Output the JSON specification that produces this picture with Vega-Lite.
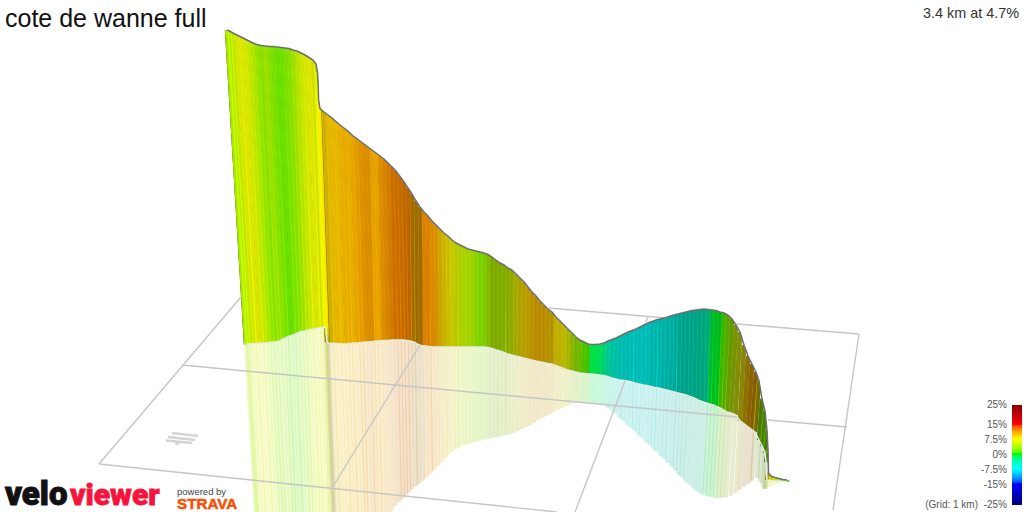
{
  "$schema": "https://vega.github.io/schema/vega-lite/v6.json",
  "width": 1024,
  "height": 512,
  "padding": 0,
  "autosize": "none",
  "background": "white",
  "config": {"view": {"stroke": null}},
  "datasets": {
    "grid": [
      {"x": 99, "y": 464, "x2": 241, "y2": 297},
      {"x": 549, "y": 308, "x2": 666, "y2": 318},
      {"x": 737, "y": 324, "x2": 859, "y2": 334},
      {"x": 859, "y": 334, "x2": 833, "y2": 510},
      {"x": 182, "y": 365, "x2": 737, "y2": 417},
      {"x": 768, "y": 420, "x2": 847, "y2": 427},
      {"x": 99, "y": 464, "x2": 557, "y2": 512},
      {"x": 332, "y": 488, "x2": 420, "y2": 345},
      {"x": 648, "y": 317, "x2": 646, "y2": 322},
      {"x": 625, "y": 381, "x2": 575, "y2": 512}
    ],
    "marker": [
      {"x": 172, "y": 433, "x2": 198, "y2": 436},
      {"x": 168, "y": 437, "x2": 195, "y2": 440},
      {"x": 166, "y": 440.5, "x2": 192, "y2": 443},
      {"x": 175, "y": 443, "x2": 179, "y2": 444}
    ],
    "slices": [
      {"x":227,"y":30,"bx":246,"by":344,"rx":257,"ry":530,"grade":4.3,"light":0.9},
      {"x":229.5,"y":31,"bx":248,"by":344,"rx":258,"ry":530,"grade":4.5,"light":0.9},
      {"x":233,"y":33,"bx":251,"by":343.8,"rx":261,"ry":530,"grade":5.5,"light":0.9},
      {"x":237,"y":35,"bx":254.7,"by":343.6,"rx":265,"ry":530,"grade":6.5,"light":0.9},
      {"x":241,"y":37,"bx":258,"by":343.2,"rx":268,"ry":530,"grade":7,"light":0.9},
      {"x":245,"y":39,"bx":262,"by":343,"rx":272,"ry":530,"grade":6.5,"light":0.9},
      {"x":249,"y":41,"bx":265.5,"by":342.8,"rx":275,"ry":530,"grade":5.5,"light":0.9},
      {"x":253,"y":43,"bx":269,"by":342.5,"rx":279,"ry":530,"grade":4.5,"light":0.9},
      {"x":257,"y":44.5,"bx":272.5,"by":342,"rx":282,"ry":530,"grade":3.5,"light":0.89},
      {"x":261,"y":45.5,"bx":276,"by":341.8,"rx":285,"ry":530,"grade":3,"light":0.88},
      {"x":265,"y":46,"bx":279.6,"by":341,"rx":288,"ry":530,"grade":3.8,"light":0.88},
      {"x":269,"y":46.5,"bx":283,"by":339,"rx":292,"ry":530,"grade":3,"light":0.88},
      {"x":273,"y":46.5,"bx":286.7,"by":337.3,"rx":295,"ry":530,"grade":2.4,"light":0.88},
      {"x":277,"y":47,"bx":290,"by":336,"rx":298,"ry":530,"grade":1.8,"light":0.88},
      {"x":281,"y":47.5,"bx":294,"by":334.5,"rx":302,"ry":530,"grade":2,"light":0.88},
      {"x":285,"y":48,"bx":297.5,"by":333,"rx":305,"ry":530,"grade":2.5,"light":0.88},
      {"x":289,"y":48.5,"bx":301,"by":331.5,"rx":309,"ry":530,"grade":3,"light":0.88},
      {"x":293,"y":50,"bx":304.6,"by":331,"rx":312,"ry":530,"grade":4,"light":0.88},
      {"x":297,"y":51,"bx":308,"by":330,"rx":315,"ry":530,"grade":5,"light":0.89},
      {"x":301,"y":53,"bx":311.7,"by":329.3,"rx":319,"ry":530,"grade":5.8,"light":0.9},
      {"x":305,"y":55,"bx":315,"by":328.8,"rx":322,"ry":530,"grade":6.5,"light":0.9},
      {"x":309,"y":57.5,"bx":319,"by":328,"rx":325,"ry":530,"grade":7,"light":0.9},
      {"x":313,"y":60,"bx":322,"by":327.5,"rx":329,"ry":530,"grade":6.5,"light":0.88},
      {"x":316,"y":64,"bx":325,"by":327,"rx":331,"ry":530,"grade":6,"light":0.8},
      {"x":317.5,"y":72,"bx":326,"by":328,"rx":333,"ry":530,"grade":6.5,"light":0.68},
      {"x":318.2,"y":85,"bx":326.5,"by":335,"rx":333,"ry":530,"grade":7.5,"light":0.6},
      {"x":318.6,"y":100,"bx":327,"by":342,"rx":334,"ry":530,"grade":8,"light":0.5},
      {"x":320,"y":108.5,"bx":328,"by":343,"rx":335,"ry":530,"grade":8.5,"light":0.55},
      {"x":324,"y":112,"bx":332,"by":343.2,"rx":339,"ry":530,"grade":9.2,"light":0.82},
      {"x":328,"y":115,"bx":335.6,"by":343.5,"rx":342,"ry":530,"grade":9.4,"light":0.88},
      {"x":332,"y":118,"bx":339.5,"by":343.8,"rx":346,"ry":530,"grade":9.7,"light":0.9},
      {"x":336,"y":121.5,"bx":343,"by":344,"rx":350,"ry":530,"grade":9.6,"light":0.9},
      {"x":340,"y":125,"bx":347,"by":344,"rx":353,"ry":530,"grade":10,"light":0.9},
      {"x":344,"y":128,"bx":350.5,"by":343.5,"rx":357,"ry":530,"grade":10.2,"light":0.9},
      {"x":348,"y":131,"bx":354,"by":343,"rx":360,"ry":530,"grade":10,"light":0.9},
      {"x":352,"y":135,"bx":358,"by":343,"rx":364,"ry":530,"grade":10.4,"light":0.9},
      {"x":356,"y":138,"bx":361.5,"by":342.5,"rx":367,"ry":530,"grade":10.6,"light":0.88},
      {"x":360,"y":141,"bx":365,"by":342,"rx":370,"ry":530,"grade":10.8,"light":0.86},
      {"x":364,"y":144,"bx":369,"by":341.8,"rx":374,"ry":530,"grade":11,"light":0.85},
      {"x":368,"y":147,"bx":373,"by":341.5,"rx":377,"ry":530,"grade":11,"light":0.85},
      {"x":372,"y":150,"bx":376.5,"by":341,"rx":381,"ry":530,"grade":10.5,"light":0.9},
      {"x":376,"y":153,"bx":380,"by":341,"rx":384,"ry":530,"grade":10.5,"light":0.9},
      {"x":380,"y":156,"bx":384,"by":340.5,"rx":388,"ry":530,"grade":11,"light":0.86},
      {"x":384,"y":159,"bx":388,"by":340.5,"rx":392,"ry":512,"grade":11.3,"light":0.84},
      {"x":388,"y":163,"bx":392,"by":340,"rx":396,"ry":506,"grade":11.6,"light":0.82},
      {"x":392,"y":167,"bx":396,"by":340,"rx":400,"ry":502,"grade":11.9,"light":0.78},
      {"x":396,"y":171,"bx":399.5,"by":340,"rx":403,"ry":499,"grade":12,"light":0.78},
      {"x":400,"y":176.5,"bx":403,"by":340,"rx":406,"ry":496,"grade":11.9,"light":0.76},
      {"x":404,"y":182,"bx":406.5,"by":340.5,"rx":409,"ry":493,"grade":12,"light":0.74},
      {"x":408,"y":188,"bx":410,"by":341,"rx":412,"ry":490,"grade":12,"light":0.72},
      {"x":412,"y":194,"bx":413.5,"by":342,"rx":416,"ry":487,"grade":10.8,"light":0.62},
      {"x":416,"y":201,"bx":417,"by":344,"rx":419,"ry":484.5,"grade":10.6,"light":0.6},
      {"x":420,"y":207,"bx":421,"by":345.5,"rx":423,"ry":481,"grade":10.8,"light":0.62},
      {"x":424,"y":212,"bx":425,"by":346,"rx":427,"ry":477.5,"grade":11.5,"light":0.85},
      {"x":428,"y":216,"bx":429,"by":346.5,"rx":431,"ry":474,"grade":11.5,"light":0.85},
      {"x":432,"y":221,"bx":432.5,"by":346.8,"rx":434,"ry":470.5,"grade":11.2,"light":0.85},
      {"x":436,"y":225,"bx":436.5,"by":347,"rx":438,"ry":466.5,"grade":10.8,"light":0.84},
      {"x":440,"y":229,"bx":440.5,"by":347,"rx":442,"ry":462.5,"grade":9.5,"light":0.8},
      {"x":444,"y":233,"bx":444.5,"by":347,"rx":446,"ry":458.5,"grade":8.8,"light":0.8},
      {"x":448,"y":236,"bx":448.5,"by":347,"rx":449.5,"ry":454.5,"grade":8,"light":0.78},
      {"x":452,"y":240,"bx":452.5,"by":347,"rx":453.5,"ry":451,"grade":7.5,"light":0.78},
      {"x":456,"y":243,"bx":456.5,"by":347,"rx":457,"ry":449,"grade":6.5,"light":0.78},
      {"x":460,"y":245,"bx":460,"by":347,"rx":460.5,"ry":447,"grade":5.5,"light":0.8},
      {"x":464,"y":247,"bx":464,"by":347,"rx":464.5,"ry":445,"grade":5,"light":0.82},
      {"x":468,"y":249,"bx":468,"by":347,"rx":468,"ry":444,"grade":4.8,"light":0.82},
      {"x":472,"y":250,"bx":472,"by":347,"rx":472,"ry":443,"grade":4.4,"light":0.82},
      {"x":476,"y":251,"bx":476,"by":347,"rx":476,"ry":442,"grade":3.5,"light":0.82},
      {"x":480,"y":252,"bx":480,"by":347,"rx":480,"ry":441,"grade":2.9,"light":0.82},
      {"x":484,"y":253,"bx":484,"by":347,"rx":484,"ry":440,"grade":2.9,"light":0.8},
      {"x":488,"y":254.5,"bx":488,"by":347.5,"rx":488,"ry":439,"grade":4,"light":0.72},
      {"x":492,"y":257,"bx":492,"by":348.5,"rx":492,"ry":438,"grade":4.3,"light":0.66},
      {"x":496,"y":260,"bx":496,"by":350,"rx":496,"ry":437.5,"grade":4.3,"light":0.66},
      {"x":500,"y":263,"bx":500,"by":351,"rx":499.5,"ry":437,"grade":4.3,"light":0.66},
      {"x":504,"y":265,"bx":504,"by":352.5,"rx":503.5,"ry":436,"grade":4.5,"light":0.66},
      {"x":508,"y":268,"bx":507.5,"by":354,"rx":507,"ry":435,"grade":4.8,"light":0.66},
      {"x":512,"y":270,"bx":511.5,"by":355,"rx":511,"ry":434.5,"grade":5.7,"light":0.66},
      {"x":516,"y":274,"bx":515.5,"by":356,"rx":515,"ry":433,"grade":7,"light":0.66},
      {"x":520,"y":278,"bx":519.5,"by":357,"rx":519,"ry":431,"grade":8.2,"light":0.68},
      {"x":524,"y":282,"bx":523.5,"by":358,"rx":523,"ry":429,"grade":8.8,"light":0.7},
      {"x":528,"y":287,"bx":527.5,"by":359,"rx":527,"ry":427,"grade":9.2,"light":0.72},
      {"x":532,"y":292,"bx":531.5,"by":360,"rx":531,"ry":425,"grade":9.6,"light":0.72},
      {"x":536,"y":296,"bx":535.5,"by":361,"rx":535,"ry":423,"grade":10,"light":0.72},
      {"x":540,"y":301,"bx":539.5,"by":361.8,"rx":539,"ry":420,"grade":10,"light":0.72},
      {"x":544,"y":305,"bx":543.5,"by":362.5,"rx":543,"ry":418,"grade":10,"light":0.72},
      {"x":548,"y":309,"bx":547.5,"by":363.5,"rx":547,"ry":416,"grade":9.5,"light":0.7},
      {"x":552,"y":312,"bx":551.5,"by":364,"rx":551,"ry":414,"grade":9.5,"light":0.7},
      {"x":556,"y":317,"bx":555.5,"by":365.5,"rx":555,"ry":412,"grade":8.5,"light":0.75},
      {"x":560,"y":321,"bx":559.5,"by":367,"rx":559,"ry":410,"grade":8.5,"light":0.75},
      {"x":564,"y":325,"bx":563.5,"by":368.5,"rx":563,"ry":408,"grade":7.5,"light":0.72},
      {"x":568,"y":329,"bx":567.5,"by":370,"rx":567,"ry":406,"grade":6.8,"light":0.7},
      {"x":572,"y":333,"bx":571.5,"by":371,"rx":571,"ry":404,"grade":5,"light":0.7},
      {"x":576,"y":337,"bx":575.5,"by":372,"rx":575,"ry":403,"grade":3.4,"light":0.7},
      {"x":580,"y":340,"bx":579.5,"by":373,"rx":579,"ry":402.5,"grade":3,"light":0.72},
      {"x":584,"y":342,"bx":583.5,"by":373.5,"rx":583,"ry":402,"grade":1.3,"light":0.76},
      {"x":588,"y":344,"bx":587.5,"by":374,"rx":587,"ry":402.5,"grade":1,"light":0.76},
      {"x":592,"y":344.5,"bx":591.5,"by":374,"rx":591,"ry":403,"grade":-1,"light":0.88},
      {"x":596,"y":344.5,"bx":595.5,"by":374.5,"rx":595,"ry":403.5,"grade":-1,"light":0.88},
      {"x":600,"y":344,"bx":599.5,"by":375,"rx":599,"ry":404,"grade":-1.5,"light":0.86},
      {"x":604,"y":343,"bx":603.5,"by":375.5,"rx":603,"ry":404.5,"grade":-2.3,"light":0.82},
      {"x":608,"y":341,"bx":607.5,"by":376.5,"rx":607,"ry":408,"grade":-4,"light":0.78},
      {"x":612,"y":339.5,"bx":611.5,"by":378,"rx":611,"ry":411,"grade":-5,"light":0.75},
      {"x":616,"y":338,"bx":615.5,"by":379,"rx":615,"ry":414,"grade":-5.5,"light":0.74},
      {"x":620,"y":336,"bx":619.5,"by":380,"rx":619,"ry":418,"grade":-6,"light":0.73},
      {"x":624,"y":334,"bx":623.5,"by":380.5,"rx":622.5,"ry":421,"grade":-6.4,"light":0.73},
      {"x":628,"y":332,"bx":627.5,"by":381,"rx":626.5,"ry":425,"grade":-6.4,"light":0.73},
      {"x":632,"y":330.5,"bx":631.5,"by":382,"rx":630.5,"ry":428,"grade":-6.6,"light":0.73},
      {"x":636,"y":329,"bx":635,"by":383,"rx":634,"ry":431,"grade":-6.8,"light":0.73},
      {"x":640,"y":327,"bx":639,"by":384,"rx":637.5,"ry":435,"grade":-7,"light":0.73},
      {"x":644,"y":325,"bx":643,"by":385,"rx":641,"ry":438,"grade":-7,"light":0.73},
      {"x":648,"y":323,"bx":647,"by":385.5,"rx":645,"ry":442,"grade":-7,"light":0.72},
      {"x":652,"y":321.5,"bx":651,"by":386.5,"rx":649,"ry":445,"grade":-6.5,"light":0.7},
      {"x":656,"y":320,"bx":655,"by":387.5,"rx":652.5,"ry":449,"grade":-6.5,"light":0.7},
      {"x":660,"y":319,"bx":658.5,"by":388,"rx":656,"ry":452,"grade":-6.5,"light":0.7},
      {"x":664,"y":318,"bx":662.5,"by":389,"rx":660,"ry":456,"grade":-6.5,"light":0.69},
      {"x":668,"y":317,"bx":666.5,"by":390,"rx":663.5,"ry":459,"grade":-6.3,"light":0.67},
      {"x":672,"y":315.5,"bx":670.5,"by":391,"rx":667,"ry":463,"grade":-6.3,"light":0.67},
      {"x":676,"y":314.5,"bx":674.5,"by":392,"rx":671,"ry":467,"grade":-6,"light":0.66},
      {"x":680,"y":313.5,"bx":678,"by":393,"rx":674.5,"ry":471,"grade":-5.5,"light":0.64},
      {"x":684,"y":312.5,"bx":682,"by":394,"rx":678,"ry":475,"grade":-5.2,"light":0.63},
      {"x":688,"y":311.5,"bx":686,"by":395,"rx":681.5,"ry":478,"grade":-5.2,"light":0.63},
      {"x":692,"y":310.5,"bx":690,"by":396.5,"rx":685,"ry":482,"grade":-5,"light":0.63},
      {"x":696,"y":310,"bx":694,"by":398,"rx":689,"ry":485,"grade":-4.6,"light":0.63},
      {"x":700,"y":309.5,"bx":698,"by":400,"rx":693,"ry":489,"grade":-4.5,"light":0.63},
      {"x":704,"y":309,"bx":702,"by":401.5,"rx":697,"ry":492,"grade":-4.2,"light":0.64},
      {"x":708,"y":309.5,"bx":706,"by":403,"rx":701,"ry":494,"grade":-4,"light":0.66},
      {"x":712,"y":310,"bx":709.5,"by":404,"rx":704.5,"ry":495.5,"grade":-0.8,"light":0.72},
      {"x":716,"y":310.5,"bx":713,"by":405,"rx":708,"ry":496.5,"grade":-0.3,"light":0.73},
      {"x":720,"y":312,"bx":716.5,"by":406.5,"rx":711.5,"ry":497,"grade":-0.3,"light":0.73},
      {"x":724,"y":313,"bx":720,"by":408,"rx":715,"ry":498,"grade":1,"light":0.7},
      {"x":728,"y":315,"bx":723.5,"by":410,"rx":718.5,"ry":498,"grade":2,"light":0.66},
      {"x":732,"y":319,"bx":727,"by":412,"rx":722,"ry":498,"grade":3.5,"light":0.6},
      {"x":736,"y":325,"bx":731,"by":413,"rx":726,"ry":497.5,"grade":5,"light":0.58},
      {"x":740,"y":332,"bx":735.5,"by":415,"rx":731,"ry":496,"grade":6.5,"light":0.56},
      {"x":744,"y":345,"bx":740,"by":421,"rx":736,"ry":493,"grade":8,"light":0.55},
      {"x":748,"y":356,"bx":744,"by":424,"rx":740,"ry":490,"grade":9.5,"light":0.55},
      {"x":752,"y":364,"bx":748,"by":427,"rx":744.5,"ry":487,"grade":10.5,"light":0.55},
      {"x":756,"y":372,"bx":752,"by":430,"rx":749,"ry":484,"grade":10.6,"light":0.52},
      {"x":759,"y":381,"bx":755,"by":432,"rx":752,"ry":481,"grade":8,"light":0.44},
      {"x":762,"y":399,"bx":759,"by":440,"rx":757,"ry":478,"grade":3,"light":0.48},
      {"x":765,"y":411,"bx":762,"by":446,"rx":760,"ry":483,"grade":2.5,"light":0.5},
      {"x":767,"y":430,"bx":765,"by":453,"rx":763,"ry":489,"grade":2,"light":0.5},
      {"x":768,"y":450,"bx":766,"by":462,"rx":765,"ry":489,"grade":3,"light":0.5},
      {"x":768.5,"y":473,"bx":767,"by":480,"rx":766,"ry":489,"grade":8,"light":0.62},
      {"x":771,"y":476,"bx":771,"by":480.5,"rx":771,"ry":487,"grade":7,"light":0.8},
      {"x":775,"y":477.5,"bx":775,"by":481,"rx":775,"ry":485,"grade":5.5,"light":0.9},
      {"x":779,"y":478.5,"bx":779,"by":481,"rx":779,"ry":483,"grade":4.5,"light":0.9},
      {"x":783,"y":479.5,"bx":783,"by":481.5,"rx":783,"ry":482,"grade":3,"light":0.9},
      {"x":787,"y":480,"bx":787,"by":481.5,"rx":787,"ry":481.5,"grade":2,"light":0.85}
    ]
  },
  "encoding": {
    "x": {"type": "quantitative", "scale": {"domain": [0, 1024], "nice": false, "zero": false}, "axis": null}
  },
  "layer": [
    {
      "encoding": {
        "y": {"type": "quantitative", "scale": {"domain": [512, 0], "nice": false, "zero": false}, "axis": null}
      },
      "resolve": {"scale": {"opacity": "independent"}},
      "layer": [
        {
          "data": {"name": "marker"},
          "mark": {"type": "rule", "color": "#d4d4d4", "strokeWidth": 2.4},
          "encoding": {
            "x": {"field": "x", "type": "quantitative"},
            "y": {"field": "y", "type": "quantitative"},
            "x2": {"field": "x2"},
            "y2": {"field": "y2"}
          }
        },
        {
          "data": {"name": "slices"},
          "transform": [{"filter": "datum.x < 317 || datum.x > 318.5"}],
          "mark": {"type": "rule", "strokeWidth": 4.3, "color": "black", "clip": true},
          "encoding": {
            "x": {"field": "bx", "type": "quantitative"},
            "y": {"field": "by", "type": "quantitative"},
            "x2": {"field": "rx"},
            "y2": {"field": "ry"},
            "opacity": {"field": "light", "type": "quantitative", "legend": null, "scale": {"domain": [0, 1], "range": [0.2, 0]}}
          }
        },
        {
          "data": {"name": "slices"},
          "transform": [{"filter": "datum.x < 317 || datum.x > 318.5"}],
          "mark": {"type": "rule", "strokeWidth": 4.3, "clip": true},
          "encoding": {
            "x": {"field": "bx", "type": "quantitative"},
            "y": {"field": "by", "type": "quantitative"},
            "x2": {"field": "rx"},
            "y2": {"field": "ry"},
            "opacity": {"field": "light", "type": "quantitative", "legend": null, "scale": {"domain": [0, 1], "range": [0, 0.2]}},
            "color": {
              "field": "grade", "type": "quantitative", "legend": null,
              "scale": {
                "domain": [-25, -15, -7.5, 0, 7.5, 15, 25],
                "range": ["#00007f", "#0000ff", "#00ffff", "#00ff00", "#ffff00", "#ff0000", "#7f0000"]
              }
            }
          }
        },
        {
          "data": {"name": "slices"},
          "mark": {"type": "area", "color": "white", "interpolate": "linear"},
          "encoding": {
            "x": {"field": "rx", "type": "quantitative"},
            "y": {"field": "ry", "type": "quantitative"},
            "y2": {"datum": 530}
          }
        },
        {
          "data": {"name": "slices"},
          "mark": {"type": "rule", "strokeWidth": 4.3, "color": "black"},
          "encoding": {
            "x": {"field": "x", "type": "quantitative"},
            "y": {"field": "y", "type": "quantitative"},
            "x2": {"field": "bx"},
            "y2": {"field": "by"}
          }
        },
        {
          "data": {"name": "slices"},
          "mark": {"type": "rule", "strokeWidth": 4.3},
          "encoding": {
            "x": {"field": "x", "type": "quantitative"},
            "y": {"field": "y", "type": "quantitative"},
            "x2": {"field": "bx"},
            "y2": {"field": "by"},
            "opacity": {"field": "light", "type": "quantitative", "legend": null, "scale": null},
            "color": {"field": "grade", "type": "quantitative", "legend": null}
          }
        },
        {
          "data": {"name": "slices"},
          "mark": {"type": "line", "color": "#e6ece0", "strokeWidth": 1.6, "interpolate": "linear"},
          "encoding": {
            "x": {"field": "bx", "type": "quantitative"},
            "y": {"field": "by", "type": "quantitative"}
          }
        },
        {
          "data": {"name": "slices"},
          "mark": {"type": "area", "color": "white", "interpolate": "linear"},
          "encoding": {
            "x": {"field": "x", "type": "quantitative"},
            "y": {"field": "y", "type": "quantitative"},
            "y2": {"datum": -5}
          }
        },
        {
          "data": {"name": "grid"},
          "mark": {"type": "rule", "color": "#c6c6c6", "strokeWidth": 1.4},
          "encoding": {
            "x": {"field": "x", "type": "quantitative"},
            "y": {"field": "y", "type": "quantitative"},
            "x2": {"field": "x2"},
            "y2": {"field": "y2"}
          }
        },
        {
          "data": {"name": "slices"},
          "mark": {"type": "line", "color": "#6e6e6e", "strokeWidth": 1.5, "interpolate": "linear"},
          "encoding": {
            "x": {"field": "x", "type": "quantitative"},
            "y": {"field": "y", "type": "quantitative"}
          }
        },
        {
          "data": {"values": [{"x": 5, "y": 27, "label": "cote de wanne full"}]},
          "mark": {"type": "text", "align": "left", "baseline": "alphabetic", "font": "Liberation Sans", "fontSize": 25, "color": "#111111"},
          "encoding": {
            "x": {"field": "x", "type": "quantitative"},
            "y": {"field": "y", "type": "quantitative"},
            "text": {"field": "label"}
          }
        },
        {
          "data": {"values": [{"x": 1019, "y": 18, "label": "3.4 km at 4.7%"}]},
          "mark": {"type": "text", "align": "right", "baseline": "alphabetic", "font": "Liberation Sans", "fontSize": 14.4, "color": "#333333"},
          "encoding": {
            "x": {"field": "x", "type": "quantitative"},
            "y": {"field": "y", "type": "quantitative"},
            "text": {"field": "label"}
          }
        },
        {
          "data": {"values": [{"x": 978, "y": 508, "label": "(Grid: 1 km)"}]},
          "mark": {"type": "text", "align": "right", "baseline": "alphabetic", "font": "Liberation Sans", "fontSize": 10, "color": "#555555"},
          "encoding": {
            "x": {"field": "x", "type": "quantitative"},
            "y": {"field": "y", "type": "quantitative"},
            "text": {"field": "label"}
          }
        },
        {
          "data": {"values": [{"x": 5, "y": 505, "label": "velo"}]},
          "mark": {"type": "text", "align": "left", "baseline": "alphabetic", "font": "Roboto", "fontWeight": 900, "fontSize": 33, "color": "#111111", "stroke": "#111111", "strokeWidth": 1},
          "encoding": {
            "x": {"field": "x", "type": "quantitative"},
            "y": {"field": "y", "type": "quantitative"},
            "text": {"field": "label"}
          }
        },
        {
          "data": {"values": [{"x": 70, "y": 505, "label": "viewer"}]},
          "mark": {"type": "text", "align": "left", "baseline": "alphabetic", "font": "Roboto", "fontWeight": 900, "fontSize": 30, "color": "#f5143c", "stroke": "#f5143c", "strokeWidth": 0.8},
          "encoding": {
            "x": {"field": "x", "type": "quantitative"},
            "y": {"field": "y", "type": "quantitative"},
            "text": {"field": "label"}
          }
        },
        {
          "data": {"values": [{"x": 177, "y": 495, "label": "powered by"}]},
          "mark": {"type": "text", "align": "left", "baseline": "alphabetic", "font": "Liberation Sans", "fontSize": 9.5, "color": "#444444"},
          "encoding": {
            "x": {"field": "x", "type": "quantitative"},
            "y": {"field": "y", "type": "quantitative"},
            "text": {"field": "label"}
          }
        },
        {
          "data": {"values": [{"x": 177, "y": 509, "label": "STRAVA"}]},
          "mark": {"type": "text", "align": "left", "baseline": "alphabetic", "font": "Liberation Sans", "fontWeight": "bold", "fontSize": 15.2, "color": "#fc4c02", "stroke": "#fc4c02", "strokeWidth": 0.5},
          "encoding": {
            "x": {"field": "x", "type": "quantitative"},
            "y": {"field": "y", "type": "quantitative"},
            "text": {"field": "label"}
          }
        }
      ]
    },
    {
      "encoding": {
        "y": {"type": "quantitative", "scale": {"domain": [-25, 25], "range": [505, 405], "nice": false, "zero": false}, "axis": null}
      },
      "layer": [
        {
          "data": {"values": [
            {"g": -25, "g2": -24}, {"g": -24, "g2": -23}, {"g": -23, "g2": -22}, {"g": -22, "g2": -21}, {"g": -21, "g2": -20},
            {"g": -20, "g2": -19}, {"g": -19, "g2": -18}, {"g": -18, "g2": -17}, {"g": -17, "g2": -16}, {"g": -16, "g2": -15},
            {"g": -15, "g2": -14}, {"g": -14, "g2": -13}, {"g": -13, "g2": -12}, {"g": -12, "g2": -11}, {"g": -11, "g2": -10},
            {"g": -10, "g2": -9}, {"g": -9, "g2": -8}, {"g": -8, "g2": -7}, {"g": -7, "g2": -6}, {"g": -6, "g2": -5},
            {"g": -5, "g2": -4}, {"g": -4, "g2": -3}, {"g": -3, "g2": -2}, {"g": -2, "g2": -1}, {"g": -1, "g2": 0},
            {"g": 0, "g2": 1}, {"g": 1, "g2": 2}, {"g": 2, "g2": 3}, {"g": 3, "g2": 4}, {"g": 4, "g2": 5},
            {"g": 5, "g2": 6}, {"g": 6, "g2": 7}, {"g": 7, "g2": 8}, {"g": 8, "g2": 9}, {"g": 9, "g2": 10},
            {"g": 10, "g2": 11}, {"g": 11, "g2": 12}, {"g": 12, "g2": 13}, {"g": 13, "g2": 14}, {"g": 14, "g2": 15},
            {"g": 15, "g2": 16}, {"g": 16, "g2": 17}, {"g": 17, "g2": 18}, {"g": 18, "g2": 19}, {"g": 19, "g2": 20},
            {"g": 20, "g2": 21}, {"g": 21, "g2": 22}, {"g": 22, "g2": 23}, {"g": 23, "g2": 24}, {"g": 24, "g2": 25}
          ]},
          "mark": {"type": "rect"},
          "encoding": {
            "x": {"datum": 1012, "type": "quantitative"},
            "x2": {"datum": 1022},
            "y": {"field": "g", "type": "quantitative"},
            "y2": {"field": "g2"},
            "color": {"field": "g", "type": "quantitative", "legend": null}
          }
        },
        {
          "data": {"values": [
            {"g": 25, "label": "25%"}, {"g": 15, "label": "15%"}, {"g": 7.5, "label": "7.5%"}, {"g": 0, "label": "0%"},
            {"g": -7.5, "label": "-7.5%"}, {"g": -15, "label": "-15%"}, {"g": -25, "label": "-25%"}
          ]},
          "mark": {"type": "text", "align": "right", "baseline": "middle", "font": "Liberation Sans", "fontSize": 10, "color": "#555555"},
          "encoding": {
            "x": {"datum": 1007, "type": "quantitative"},
            "y": {"field": "g", "type": "quantitative"},
            "text": {"field": "label"}
          }
        }
      ]
    }
  ],
  "resolve": {"scale": {"y": "independent"}}
}
